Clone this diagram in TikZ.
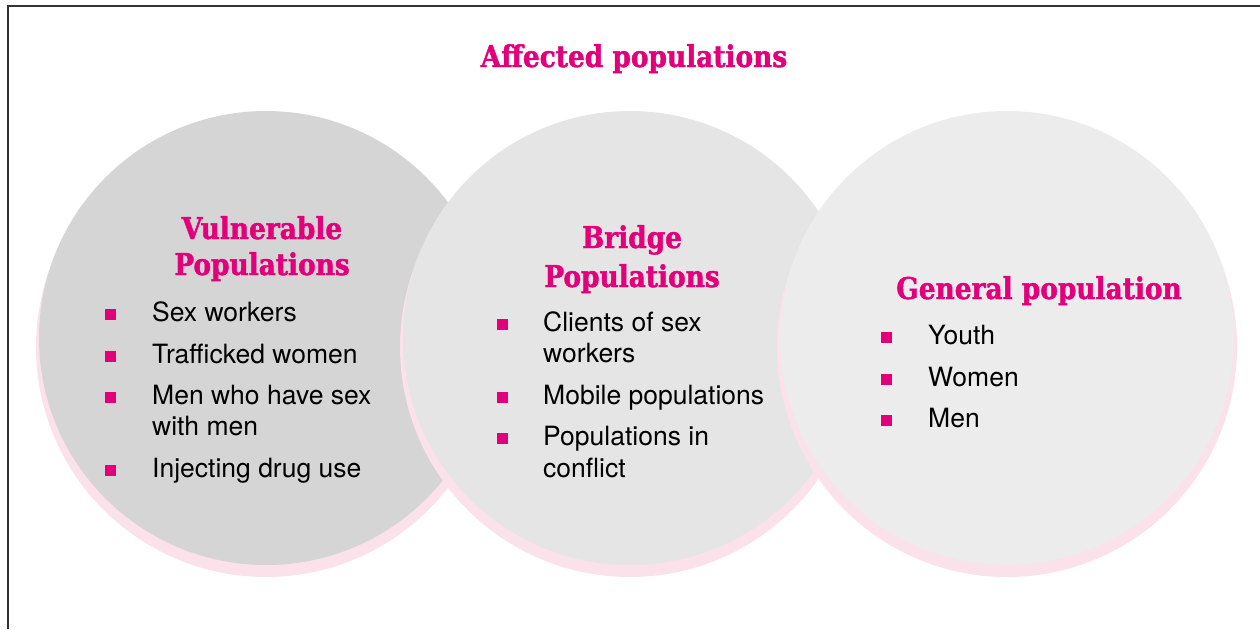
\documentclass[tikz,border=0pt]{standalone}
\usepackage{fontspec}
\setmainfont{TeX Gyre Heros}
\newfontfamily\headfont[FakeStretch=0.88, BoldFeatures={FakeStretch=0.88, FakeBold=1.5}]{DejaVu Serif}
\definecolor{brandpink}{HTML}{E2007A}
\definecolor{halo}{HTML}{FBE1EA}
\definecolor{discA}{HTML}{D5D5D5}
\definecolor{discB}{HTML}{E5E5E5}
\definecolor{discC}{HTML}{ECECEC}
\definecolor{framegray}{HTML}{333333}
\begin{document}
\begin{tikzpicture}[x=1pt,y=-1pt,
  disc/.style={circle, minimum size=454pt, inner sep=0pt},
  glow/.style={circle, minimum size=460pt, inner sep=0pt, fill=halo},
  heading/.style={text=brandpink, font=\headfont\bfseries\fontsize{30}{30}\selectfont, anchor=base, inner sep=0pt},
  item/.style={font=\fontsize{26.5}{26.5}\selectfont, anchor=base west, inner sep=0pt},
  dot/.style={fill=brandpink, minimum size=11pt, inner sep=0pt}]
\useasboundingbox (0,0) rectangle (1260,629);
% frame on the left and top
\coordinate (fTop) at (1260,6);
\coordinate (fCorner) at (8,6);
\coordinate (fBottom) at (8,629);
\draw[framegray, line width=1.5pt] (fTop) -- (fCorner) -- (fBottom);

% three discs, each with a pink halo below it
\node[glow] (g1) at (266,347) {};
\node[disc, fill=discA] (d1) at (266,338) {};
\node[glow] (g2) at (630,347) {};
\node[disc, fill=discB] (d2) at (630,338) {};
\node[glow] (g3) at (1007,347) {};
\node[disc, fill=discC] (d3) at (1007,338) {};

% title
\node[heading] (title) at (634,67) {Affected populations};

% vulnerable populations
\node[heading] (h1a) at (262,239) {Vulnerable};
\node[heading] (h1b) at (262,275) {Populations};
\node[dot] (b11) at (110,314.5) {};
\node[item] (t11) at (152,321) {Sex workers};
\node[dot] (b12) at (110,356.5) {};
\node[item] (t12) at (152,363) {Trafficked women};
\node[dot] (b13) at (110,397.5) {};
\node[item] (t13) at (152,404) {Men who have sex};
\node[item] (t13b) at (152,435) {with men};
\node[dot] (b14) at (110,470.5) {};
\node[item] (t14) at (152,477) {Injecting drug use};

% bridge populations
\node[heading] (h2a) at (632,248) {Bridge};
\node[heading] (h2b) at (632,287) {Populations};
\node[dot] (b21) at (502,324.5) {};
\node[item] (t21) at (543,331) {Clients of sex};
\node[item] (t21b) at (543,362) {workers};
\node[dot] (b22) at (502,397.5) {};
\node[item] (t22) at (543,404) {Mobile populations};
\node[dot] (b23) at (502,438.5) {};
\node[item] (t23) at (543,445) {Populations in};
\node[item] (t23b) at (543,477) {conflict};

% general population
\node[heading] (h3) at (1039,299) {General population};
\node[dot] (b31) at (886,337.5) {};
\node[item] (t31) at (928,344) {Youth};
\node[dot] (b32) at (886,379.5) {};
\node[item] (t32) at (928,386) {Women};
\node[dot] (b33) at (886,420.5) {};
\node[item] (t33) at (928,427) {Men};
\end{tikzpicture}
\end{document}
